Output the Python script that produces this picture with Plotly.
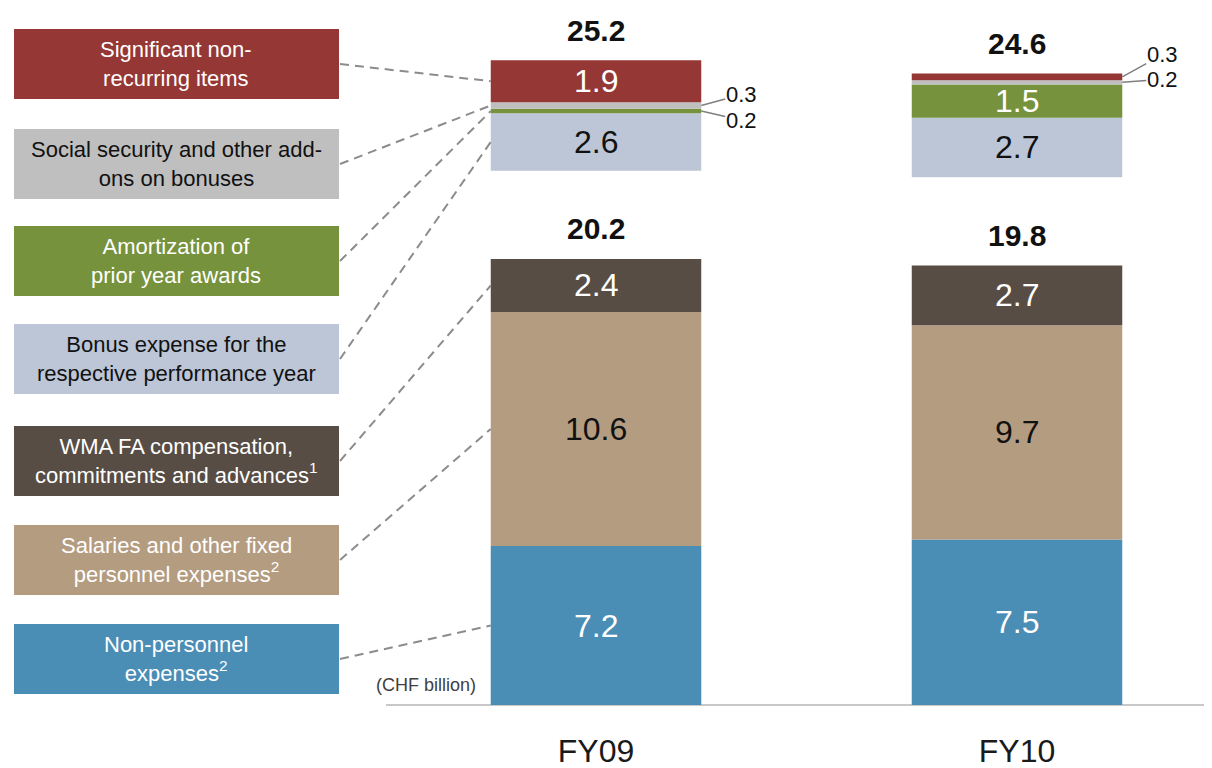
import plotly.graph_objects as go

# ---------------- data ----------------
years = ["FY09", "FY10"]
xpos = [0, 1]

# lower stack, bottom to top (CHF billion)
non_personnel = [7.2, 7.5]
salaries = [10.6, 9.7]
wma_fa = [2.4, 2.7]

# upper stack, bottom to top (CHF billion)
bonus = [2.6, 2.7]
amortization = [0.2, 1.5]
social_security = [0.3, 0.2]
non_recurring = [1.9, 0.3]

lower_totals = [20.2, 19.8]
grand_totals = [25.2, 24.6]

legend_texts = [
    "Significant non-<br>recurring items",
    "Social security and other add-<br>ons on bonuses",
    "Amortization of<br>prior year awards",
    "Bonus expense for the<br>respective performance year",
    "WMA FA compensation,<br>commitments and advances<sup>1</sup>",
    "Salaries and other fixed<br>personnel expenses<sup>2</sup>",
    "Non-personnel<br>expenses<sup>2</sup>",
]

# ---------------- styles / layout ----------------
FONT = "Liberation Sans, Arial, sans-serif"
PAGE_W, PAGE_H = 1212, 768
OFF = 8                      # default page margin of the html body
W, H = PAGE_W - OFF, PAGE_H - OFF
BASE_PAGE = 705              # page pixel row of the baseline
BASE_PX = BASE_PAGE - OFF    # figure pixel row of the baseline
PX_PER_UNIT = 22.08
X0_PAGE, X_STEP_PX = 596, 421
BAR_W = 0.5
GAP = 4.0                    # break between lower and upper stack (data units)

XR = [-(X0_PAGE - OFF) / X_STEP_PX, (W - (X0_PAGE - OFF)) / X_STEP_PX]
YR = [0, BASE_PX / PX_PER_UNIT]


def px_x(page_px):
    return XR[0] + (page_px - OFF) / X_STEP_PX


def px_y(page_py):
    return (BASE_PX - (page_py - OFF)) / PX_PER_UNIT


def paper_x(page_px):
    return (page_px - OFF) / W


def paper_y(page_py):
    return (BASE_PX - (page_py - OFF)) / BASE_PX


C_RED = "#953735"
C_GREY = "#BFBFBF"
C_GREEN = "#76923C"
C_LBLUE = "#BCC6D6"
C_DARK = "#574D44"
C_TAN = "#B49C80"
C_BLUE = "#4A8DB5"

# series: (values, colour, label colour, legend index)
lower_series = [
    (non_personnel, C_BLUE, "white", 6),
    (salaries, C_TAN, "#111111", 5),
    (wma_fa, C_DARK, "white", 4),
]
upper_series = [
    (bonus, C_LBLUE, "#111111", 3),
    (amortization, C_GREEN, "white", 2),
    (social_security, C_GREY, "#111111", 1),
    (non_recurring, C_RED, "white", 0),
]
legend_colors = [C_RED, C_GREY, C_GREEN, C_LBLUE, C_DARK, C_TAN, C_BLUE]
legend_text_colors = ["white", "#111111", "white", "#111111", "white", "white", "white"]
legend_tops_px = [29, 129, 226, 324, 426, 525, 624]
BOX_H_PX = 70
BOX_L_PX, BOX_R_PX = 14, 339

# offsets (pixels) of the small outside labels: (legend index, year index) -> (ax, ay)
small_offsets = {
    (1, 0): (40, -11), (2, 0): (40, 9),
    (0, 1): (40, -22), (1, 1): (40, -3),
}

fig = go.Figure()
annotations = []
shapes = []

# segment middles for FY09 (used by connector lines)
seg_mid_fy09 = {}

lower_sum = [0.0 for _ in xpos]
for vals, color, tcol, li in lower_series:
    bases = list(lower_sum)
    fig.add_trace(go.Bar(x=xpos, y=vals, base=bases, width=BAR_W,
                         marker=dict(color=color, line=dict(width=0)),
                         showlegend=False, hoverinfo="skip"))
    for i, v in enumerate(vals):
        mid = bases[i] + v / 2
        if i == 0:
            seg_mid_fy09[li] = mid
        annotations.append(dict(x=xpos[i], y=mid, xref="x", yref="y", text=f"{v:.1f}",
                                showarrow=False, xanchor="center", yanchor="middle",
                                font=dict(size=32, color=tcol, family=FONT)))
        lower_sum[i] += v

upper_start = [s + GAP for s in lower_sum]
upper_sum = list(upper_start)
for vals, color, tcol, li in upper_series:
    bases = list(upper_sum)
    fig.add_trace(go.Bar(x=xpos, y=vals, base=bases, width=BAR_W,
                         marker=dict(color=color, line=dict(width=0)),
                         showlegend=False, hoverinfo="skip"))
    for i, v in enumerate(vals):
        mid = bases[i] + v / 2
        if i == 0:
            seg_mid_fy09[li] = mid
        if v >= 1.0:
            annotations.append(dict(x=xpos[i], y=mid, xref="x", yref="y", text=f"{v:.1f}",
                                    showarrow=False, xanchor="center", yanchor="middle",
                                    font=dict(size=32, color=tcol, family=FONT)))
        else:
            ax, ay = small_offsets.get((li, i), (40, 0))
            annotations.append(dict(x=xpos[i] + BAR_W / 2, y=mid, xref="x", yref="y",
                                    text=f"{v:.1f}", showarrow=True, arrowhead=0,
                                    arrowwidth=1.5, arrowcolor="#7F7F7F", standoff=0,
                                    ax=ax, ay=ay, borderpad=0,
                                    font=dict(size=22, color="#111111", family=FONT)))
        upper_sum[i] += v

# totals
for i in range(len(xpos)):
    annotations.append(dict(x=xpos[i], y=lower_sum[i], xref="x", yref="y", yshift=30,
                            text=f"<b>{lower_totals[i]:.1f}</b>", showarrow=False,
                            xanchor="center", yanchor="middle",
                            font=dict(size=30, color="#111111", family=FONT)))
    annotations.append(dict(x=xpos[i], y=upper_sum[i], xref="x", yref="y", yshift=30,
                            text=f"<b>{grand_totals[i]:.1f}</b>", showarrow=False,
                            xanchor="center", yanchor="middle",
                            font=dict(size=30, color="#111111", family=FONT)))

# legend boxes + connectors
for li, txt in enumerate(legend_texts):
    top = legend_tops_px[li]
    bot = top + BOX_H_PX
    shapes.append(dict(type="rect", xref="paper", yref="paper",
                       x0=paper_x(BOX_L_PX), x1=paper_x(BOX_R_PX),
                       y0=paper_y(bot), y1=paper_y(top),
                       fillcolor=legend_colors[li], line=dict(width=0), layer="below"))
    annotations.append(dict(x=paper_x((BOX_L_PX + BOX_R_PX) / 2), y=paper_y((top + bot) / 2),
                            xref="paper", yref="paper", text=txt, showarrow=False,
                            xanchor="center", yanchor="middle", align="center",
                            font=dict(size=22, color=legend_text_colors[li], family=FONT)))
    shapes.append(dict(type="line", xref="x", yref="y",
                       x0=px_x(BOX_R_PX + 1), y0=px_y((top + bot) / 2),
                       x1=xpos[0] - BAR_W / 2, y1=seg_mid_fy09[li],
                       line=dict(color="#8C8C8C", width=2, dash="9px,6px")))

# baseline
shapes.append(dict(type="line", xref="paper", yref="paper",
                   x0=paper_x(386), x1=1, y0=0, y1=0,
                   line=dict(color="#C8C8C8", width=2), layer="below"))

annotations.append(dict(x=paper_x(478), y=paper_y(685), xref="paper", yref="paper",
                        xanchor="right", yanchor="middle", text="(CHF billion)",
                        showarrow=False,
                        font=dict(size=18, color="#404040", family=FONT)))

fig.update_layout(
    width=W, height=H,
    margin=dict(l=0, r=0, t=0, b=H - BASE_PX, pad=0),
    paper_bgcolor="white", plot_bgcolor="white",
    barmode="overlay",
    showlegend=False,
    font=dict(family=FONT),
    shapes=shapes,
    annotations=annotations,
    xaxis=dict(range=XR, tickvals=xpos, ticktext=years, showgrid=False, zeroline=False,
               showline=False, ticks="", automargin=False, ticklabelstandoff=24,
               tickfont=dict(size=32, color="#1A1A1A", family=FONT), fixedrange=True),
    yaxis=dict(range=YR, visible=False, showgrid=False, zeroline=False, fixedrange=True),
)

fig.write_html("out.html")
